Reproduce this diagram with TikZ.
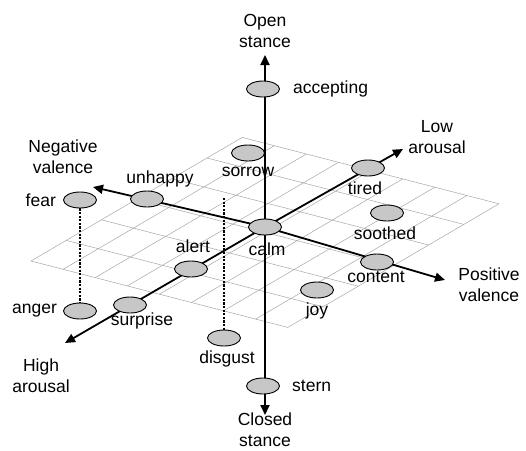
\documentclass[tikz,border=0pt]{standalone}
\usepackage{fontspec}
\setmainfont{Liberation Sans}
\usetikzlibrary{positioning,arrows.meta,shapes.geometric}

\begin{document}
\begin{tikzpicture}[
    x=1pt, y=-1pt,
    every node/.style={font=\fontsize{17.5}{21}\selectfont},
    emotion/.style={ellipse, draw, fill=black!22, line width=0.9pt, minimum width=33pt, minimum height=16pt, inner sep=0pt},
    word/.style={inner sep=0pt, anchor=mid},
    pole/.style={inner sep=0pt, align=center},
    axis/.style={-{Triangle[length=10pt,width=9pt]}, line width=1.8pt},
    drop/.style={line width=2.2pt, dash pattern=on 2.2pt off 1.4pt},
    gridline/.style={black!35, line width=0.5pt}
]
\useasboundingbox (0,0) rectangle (526,450);

% Floor grid
\foreach \i in {0,...,8} {
    \draw[gridline] ({31+32.1*\i},{261+8.3*\i}) -- ({31+32.1*\i+211.2},{261+8.3*\i-123.6});
}
\foreach \j in {0,...,6} {
    \draw[gridline] ({31+35.2*\j},{261-20.6*\j}) -- ({31+35.2*\j+256.8},{261-20.6*\j+66.4});
}

% Origin and axis ends
\coordinate (o) at (265,227);
\coordinate (opentip) at (265,55);
\coordinate (closedtip) at (265,415);
\coordinate (negtip) at (93,187);
\coordinate (postip) at (445,280);
\coordinate (lowtip) at (403,149);
\coordinate (hightip) at (65,343);
\coordinate (droptop) at (224,198);

% Behind the stance axis
\node[emotion] (sorrow) at (248,153) {};

% Axes
\draw[axis] (o) -- (opentip);
\draw[axis] (o) -- (closedtip);
\draw[axis] (o) -- (negtip);
\draw[axis] (o) -- (postip);
\draw[axis] (o) -- (lowtip);
\draw[axis] (o) -- (hightip);

% Emotions
\node[emotion] (accepting) at (263,89) {};
\node[emotion] (tired) at (368,168) {};
\node[emotion] (unhappy) at (147,199) {};
\node[emotion] (fear) at (80,200) {};
\node[emotion] (soothed) at (387,213) {};
\node[emotion] (calm) at (o) {};
\node[emotion] (alert) at (191,269) {};
\node[emotion] (content) at (377,262) {};
\node[emotion] (joy) at (317,290) {};
\node[emotion] (anger) at (80,311) {};
\node[emotion] (surprise) at (130,305) {};
\node[emotion] (disgust) at (224,338) {};
\node[emotion] (stern) at (263,386) {};

% Dotted drops
\draw[drop] (fear) -- (anger);
\draw[drop] (droptop) -- (disgust);

% Emotion names
\node[right=13pt of accepting, inner sep=0pt] {accepting};
\node[right=12pt of stern, inner sep=0pt] {stern};
\node[left=7pt of fear, inner sep=0pt] {fear};
\node[left=6pt of anger, inner sep=0pt] {anger};
\node[word] at (248,174) {sorrow};
\node[word] at (365,192) {tired};
\node[word] at (160,181) {unhappy};
\node[word] at (385,237) {soothed};
\node[word] at (267,253) {calm};
\node[word] at (193,250) {alert};
\node[word] at (376,280) {content};
\node[word] at (317,313) {joy};
\node[word] at (142,323) {surprise};
\node[word] at (227,361) {disgust};

% Axis names
\node[pole] (open) at (265,31) {Open\\stance};
\node[pole] (closed) at (265,430) {Closed\\stance};
\node[pole] (negative) at (63,157) {Negative\\valence};
\node[pole] (positive) at (489,285) {Positive\\valence};
\node[pole] (low) at (437,137) {Low\\arousal};
\node[pole] (high) at (41,376) {High\\arousal};

\end{tikzpicture}
\end{document}
